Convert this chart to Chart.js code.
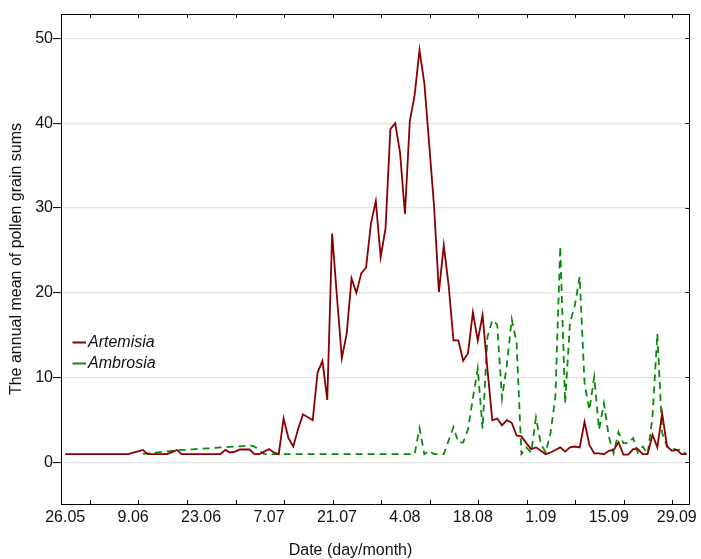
<!DOCTYPE html>
<html>
<head>
<meta charset="utf-8">
<script src="https://cdn.jsdelivr.net/npm/chart.js@4.4.1/dist/chart.umd.min.js"></script>
<style>
html,body{margin:0;padding:0;background:#fff;}
#wrap{width:701px;height:559px;position:relative;}
</style>
</head>
<body>
<div id="wrap"><canvas id="c"></canvas></div>
<script>
// Categories: one per day, 25.05 .. 1.10
const dates = [
'25.05','26.05','27.05','28.05','29.05','30.05','31.05',
'1.06','2.06','3.06','4.06','5.06','6.06','7.06','8.06','9.06','10.06','11.06','12.06','13.06','14.06','15.06',
'16.06','17.06','18.06','19.06','20.06','21.06','22.06','23.06','24.06','25.06','26.06','27.06','28.06','29.06','30.06',
'1.07','2.07','3.07','4.07','5.07','6.07','7.07','8.07','9.07','10.07','11.07','12.07','13.07','14.07','15.07',
'16.07','17.07','18.07','19.07','20.07','21.07','22.07','23.07','24.07','25.07','26.07','27.07','28.07','29.07','30.07','31.07',
'1.08','2.08','3.08','4.08','5.08','6.08','7.08','8.08','9.08','10.08','11.08','12.08','13.08','14.08','15.08',
'16.08','17.08','18.08','19.08','20.08','21.08','22.08','23.08','24.08','25.08','26.08','27.08','28.08','29.08','30.08','31.08',
'1.09','2.09','3.09','4.09','5.09','6.09','7.09','8.09','9.09','10.09','11.09','12.09','13.09','14.09','15.09',
'16.09','17.09','18.09','19.09','20.09','21.09','22.09','23.09','24.09','25.09','26.09','27.09','28.09','29.09','30.09',
'1.10'
];

// Date labels shown under the axis
const labelDates = ['26.05','9.06','23.06','7.07','21.07','4.08','18.08','1.09','15.09','29.09'];

// Y axis tick values
const yTicks = [0, 10, 20, 30, 40, 50];

// Artemisia (one value per date)
const artemisia = [
 null,1,1,1,1,1,1,1,1,1,
 1,1,1,1,1,1.17,1.33,1.5,1,1,
 1,1,1,1.25,1.5,1,1,1,1,1,
 1,1,1,1,1.5,1.2,1.3,1.55,1.55,1.55,
 1,1,1.3,1.6,1.2,1,5.2,2.9,1.9,4.0,
 5.7,5.35,5.0,10.6,12.0,7.4,27.0,19.5,12.3,15.2,
 21.7,20.0,22.3,23.0,28.2,30.8,24.2,27.6,39.3,40.0,
 36.5,29.3,40.2,43.3,48.6,44.7,37.5,30.2,20.1,25.6,
 20.9,14.4,14.4,12.0,12.9,17.7,14.4,17.4,11.0,5.0,
 5.2,4.4,5.0,4.7,3.2,3.1,2.3,1.6,1.8,1.4,
 1.0,1.2,1.5,1.8,1.3,1.8,1.9,1.8,4.8,2.1,
 1.1,1.1,1.0,1.4,1.5,2.4,0.95,0.95,1.6,1.6,
 1.0,1.0,3.3,1.8,5.8,1.9,1.4,1.5,1.0,1.0
];

// Ambrosia (one value per date)
const ambrosia = [
 null,null,null,null,null,null,null,null,null,null,
 null,null,null,null,null,null,null,1.05,1.1,1.15,
 1.2,1.28,1.33,1.4,1.45,1.5,1.52,1.57,1.6,1.64,
 1.68,1.7,1.75,1.8,1.82,1.87,1.9,1.93,1.97,2.05,
 1.9,1.45,1.0,1,1,1,1,1,1,1,
 1,1,1,1,1,1,1,1,1,1,
 1,1,1,1,1,1,1,1,1,1,
 1,1,1,1,4.05,1.0,1.4,1,1,1,
 2.6,4.2,2.4,2.4,3.9,7.6,11.1,4.0,14.8,16.8,
 16.3,7.6,11.5,16.9,14.2,1.0,1.8,1.2,5.3,2.2,
 1.2,3.5,7.8,25.5,7.0,16.5,18.5,21.9,9.4,6.2,
 10.1,3.9,7.0,3.1,1.1,3.6,2.3,2.3,2.9,1.2,
 1.9,1.0,5.4,15.2,3.5,1.9,1.7,1.5,1.5,1.0
];

// Positions (in day index units) of the small frame tick marks
const xTickMarks = [6.2,16.2,26.2,36.2,46.2,56.2,66.2,76.2,86.2,96.2,106.2,116.2,126.2];

const X_MIN = 0.14, X_MAX = 129.63;
const Y_MIN = -4.87, Y_MAX = 52.86;
const FONT = "'Liberation Sans', Arial, Helvetica, sans-serif";

Chart.defaults.font.family = FONT;
Chart.defaults.font.size = 16;
Chart.defaults.color = '#111';

const toPoints = arr => arr.map((v, i) => ({x: i, y: v}));

const legendPlugin = {
  id: 'insideLegend',
  afterDatasetsDraw(chart) {
    const ctx = chart.ctx;
    const {left, top} = chart.chartArea;
    chart.data.datasets.forEach((ds, i) => {
      const y = top + 328.5 + i * 21;
      ctx.save();
      ctx.strokeStyle = ds.borderColor;
      ctx.lineWidth = 2;
      ctx.beginPath();
      ctx.moveTo(left + 11.5, y);
      ctx.lineTo(left + 25, y);
      ctx.stroke();
      ctx.fillStyle = '#111';
      ctx.font = "italic 16px " + FONT;
      ctx.textBaseline = 'middle';
      ctx.textAlign = 'left';
      ctx.fillText(ds.label, left + 27, y + 0.5);
      ctx.restore();
    });
  }
};

new Chart(document.getElementById('c'), {
  type: 'line',
  data: {
    datasets: [
      {
        label: 'Artemisia',
        data: toPoints(artemisia),
        borderColor: '#880000',
        borderWidth: 1.8,
        pointRadius: 0,
        tension: 0,
        fill: false
      },
      {
        label: 'Ambrosia',
        data: toPoints(ambrosia),
        borderColor: '#0a8a0a',
        borderWidth: 1.8,
        borderDash: [7, 5],
        pointRadius: 0,
        tension: 0,
        fill: false
      }
    ]
  },
  options: {
    responsive: true,
    maintainAspectRatio: false,
    animation: false,
    devicePixelRatio: 1,
    layout: {padding: 0},
    plugins: {
      legend: {display: false},
      tooltip: {enabled: false},
      title: {
        display: true,
        position: 'bottom',
        text: 'Date (day/month)',
        color: '#111',
        font: {size: 16, weight: 'normal', lineHeight: 1},
        padding: {top: 7, bottom: 0}
      }
    },
    scales: {
      x: {
        type: 'linear', position: 'bottom', weight: 1,
        min: X_MIN, max: X_MAX,
        afterBuildTicks: s => { s.ticks = labelDates.map(d => ({value: dates.indexOf(d)})); },
        ticks: {autoSkip: false, maxRotation: 0, minRotation: 0, padding: 4, color: '#111',
                callback: v => dates[v]},
        grid: {display: false, drawTicks: false},
        border: {display: true, color: '#000', width: 1},
        afterFit: s => { s.height = 32; }
      },
      xt: {
        type: 'linear', position: 'bottom', weight: 0,
        min: X_MIN, max: X_MAX,
        afterBuildTicks: s => { s.ticks = xTickMarks.map(v => ({value: v})); },
        ticks: {display: false},
        grid: {display: true, drawOnChartArea: false, drawTicks: true, tickLength: -4, tickColor: '#000', tickWidth: 1},
        border: {display: false},
        afterFit: s => { s.height = 0; }
      },
      xTop: {
        type: 'linear', position: 'top',
        min: X_MIN, max: X_MAX,
        afterBuildTicks: s => { s.ticks = xTickMarks.map(v => ({value: v})); },
        ticks: {display: false},
        grid: {display: true, drawOnChartArea: false, drawTicks: true, tickLength: -4, tickColor: '#000', tickWidth: 1},
        border: {display: true, color: '#000', width: 1},
        afterFit: s => { s.height = 14; }
      },
      y: {
        type: 'linear', position: 'left',
        min: Y_MIN, max: Y_MAX,
        afterBuildTicks: s => { s.ticks = yTicks.map(v => ({value: v})); },
        ticks: {padding: 0, color: '#111'},
        grid: {display: true, drawOnChartArea: true, color: '#e3e3e3', lineWidth: 1.2,
               drawTicks: true, tickLength: 8, tickColor: '#000', tickWidth: 1},
        border: {display: true, color: '#000', width: 1},
        title: {display: true, text: 'The annual mean of pollen grain sums', color: '#111',
                font: {size: 16}, padding: {top: 6.5, bottom: 0}},
        afterFit: s => { s.width = 61; }
      },
      y2: {
        type: 'linear', position: 'right',
        min: Y_MIN, max: Y_MAX,
        afterBuildTicks: s => { s.ticks = yTicks.map(v => ({value: v})); },
        ticks: {display: false},
        grid: {display: true, drawOnChartArea: false, drawTicks: true, tickLength: -4, tickColor: '#000', tickWidth: 1},
        border: {display: true, color: '#000', width: 1},
        afterFit: s => { s.width = 10.3; }
      }
    }
  },
  plugins: [legendPlugin]
});
</script>
</body>
</html>
